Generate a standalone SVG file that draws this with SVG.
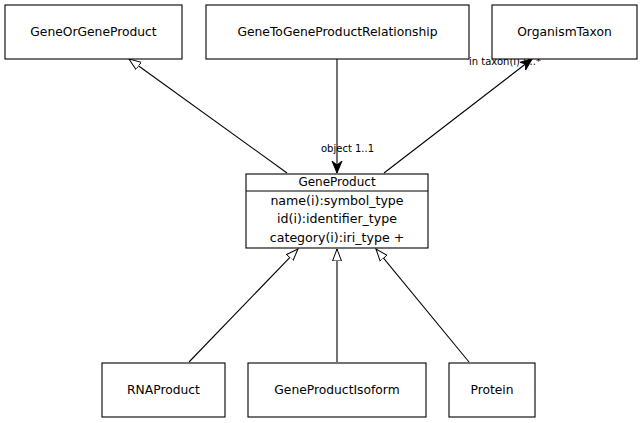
<svg xmlns="http://www.w3.org/2000/svg" width="643" height="423" viewBox="0 0 643 423">
<defs>
<style>
.box{fill:#fff;stroke:#000;stroke-width:1.1}
.t{font-family:"DejaVu Sans",sans-serif;font-size:12.3px;text-anchor:middle;fill:#000}
.h{font-family:"DejaVu Sans",sans-serif;font-size:12px;text-anchor:middle;fill:#000}
.a{font-family:"DejaVu Sans",sans-serif;font-size:12.6px;text-anchor:middle;fill:#000}
.l{font-family:"DejaVu Sans",sans-serif;font-size:10px;fill:#000}
.e{stroke:#000;stroke-width:1.1;fill:none}
</style>
<marker id="gen" markerWidth="14" markerHeight="12" refX="12" refY="5" orient="auto" markerUnits="userSpaceOnUse" viewBox="0 0 14 10">
<path d="M0,0.5 L12,5 L0,9.5 Z" fill="#fff" stroke="#000" stroke-width="1"/>
</marker>
<marker id="vee" markerWidth="14" markerHeight="12" refX="12" refY="5" orient="auto" markerUnits="userSpaceOnUse" viewBox="0 0 14 10">
<path d="M0,0 L12,5 L0,10 L4,5 Z" fill="#000" stroke="#000" stroke-width="1"/>
</marker>
</defs>
<rect width="643" height="423" fill="#fff"/>
<g id="connectors">
<line class="e" x1="287" y1="173" x2="129" y2="59" marker-end="url(#gen)"/>
<line class="e" x1="337" y1="59" x2="337" y2="173" marker-end="url(#vee)"/>
<line class="e" x1="384" y1="173" x2="532" y2="59" marker-end="url(#vee)"/>
<line class="e" x1="189" y1="362" x2="298" y2="249" marker-end="url(#gen)"/>
<line class="e" x1="337" y1="362" x2="337" y2="249" marker-end="url(#gen)"/>
<line class="e" x1="469" y1="362" x2="376" y2="249" marker-end="url(#gen)"/>
<text class="l" x="321" y="152">object 1..1</text>
<text class="l" x="469" y="65">in taxon(i) 0..*</text>
</g>
<g id="GeneOrGeneProduct">
<rect class="box" x="5" y="5" width="177" height="54"/>
<text class="t" x="93.5" y="36">GeneOrGeneProduct</text>
</g>
<g id="GeneToGeneProductRelationship">
<rect class="box" x="206" y="5" width="263" height="54"/>
<text class="t" x="337.5" y="36">GeneToGeneProductRelationship</text>
</g>
<g id="OrganismTaxon">
<rect class="box" x="492" y="5" width="145" height="54"/>
<text class="t" x="564.5" y="36">OrganismTaxon</text>
</g>
<g id="GeneProduct">
<rect class="box" x="246" y="174" width="182" height="74"/>
<line class="e" x1="246" y1="191" x2="428" y2="191"/>
<text class="h" x="337" y="186">GeneProduct</text>
<text class="a" x="337" y="205">name(i):symbol_type</text>
<text class="a" x="337" y="223">id(i):identifier_type</text>
<text class="a" x="337" y="242">category(i):iri_type +</text>
</g>
<g id="RNAProduct">
<rect class="box" x="102" y="363" width="123" height="54"/>
<text class="t" x="163.5" y="394">RNAProduct</text>
</g>
<g id="GeneProductIsoform">
<rect class="box" x="248" y="363" width="178" height="54"/>
<text class="t" x="337" y="394">GeneProductIsoform</text>
</g>
<g id="Protein">
<rect class="box" x="449" y="363" width="86" height="54"/>
<text class="t" x="492" y="394">Protein</text>
</g>
</svg>
